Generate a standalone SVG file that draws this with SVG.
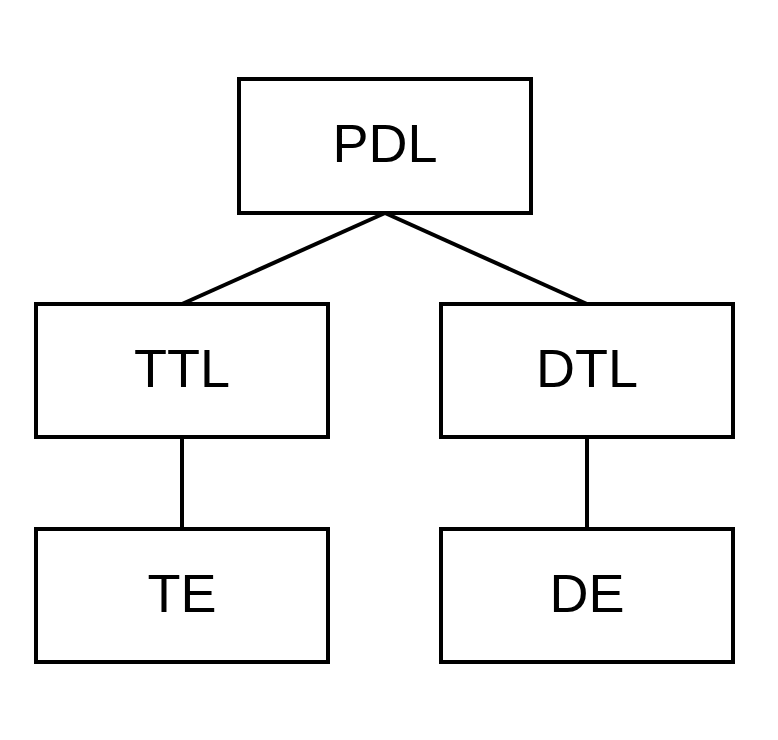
<svg xmlns="http://www.w3.org/2000/svg" width="778" height="740" viewBox="0 0 778 740">
<style>
.box{fill:#fff;stroke:#000;stroke-width:4}
.lbl{font-family:"Liberation Sans",Arial,sans-serif;font-size:54px;text-anchor:middle;fill:#000}
.conn{stroke:#000;stroke-width:4;fill:none}
</style>
<rect width="778" height="740" fill="#fff"/>
<g id="connectors">
<line class="conn" x1="385" y1="213" x2="182" y2="304"/>
<line class="conn" x1="385" y1="213" x2="587" y2="304"/>
<line class="conn" x1="182" y1="437" x2="182" y2="529"/>
<line class="conn" x1="587" y1="437" x2="587" y2="529"/>
</g>
<g id="PDL"><rect class="box" x="239" y="79" width="292" height="134"/><text class="lbl" x="385" y="162">PDL</text></g>
<g id="TTL"><rect class="box" x="36" y="304" width="292" height="133"/><text class="lbl" x="182" y="387">TTL</text></g>
<g id="DTL"><rect class="box" x="441" y="304" width="292" height="133"/><text class="lbl" x="587" y="387">DTL</text></g>
<g id="TE"><rect class="box" x="36" y="529" width="292" height="133"/><text class="lbl" x="182" y="612">TE</text></g>
<g id="DE"><rect class="box" x="441" y="529" width="292" height="133"/><text class="lbl" x="587" y="612">DE</text></g>
</svg>
